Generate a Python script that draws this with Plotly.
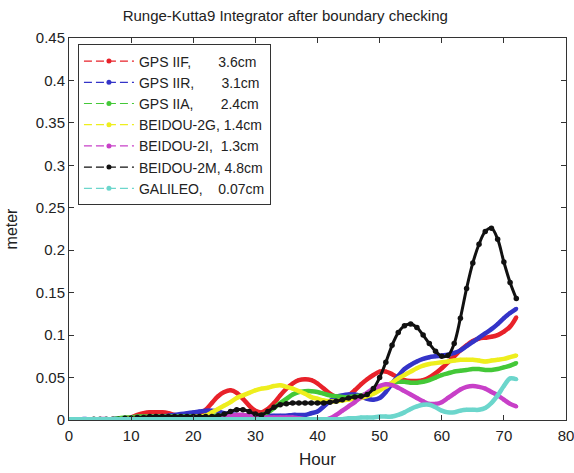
import plotly.graph_objects as go

hours = list(range(0, 73))

gps_iif = [0, 0, 0, 0, 0, 0, 0, 0.001, 0.001, 0.002, 0.003, 0.006, 0.008, 0.009, 0.009, 0.009,
           0.008, 0.006, 0.005, 0.005, 0.005, 0.007, 0.012, 0.02, 0.028, 0.033, 0.035, 0.032, 0.025,
           0.017, 0.011, 0.009, 0.013, 0.02, 0.029, 0.037, 0.043, 0.047, 0.048, 0.047, 0.043, 0.037,
           0.031, 0.027, 0.026, 0.029, 0.035, 0.042, 0.048, 0.053, 0.057, 0.057, 0.054, 0.05, 0.047,
           0.046, 0.046, 0.047, 0.05, 0.055, 0.061, 0.068, 0.075, 0.082, 0.088, 0.093, 0.096, 0.097,
           0.098, 0.1, 0.104, 0.11, 0.121]
gps_iir = [0, 0, 0.001, 0.001, 0.001, 0.001, 0.001, 0.001, 0.002, 0.002, 0.002, 0.003, 0.003,
           0.003, 0.004, 0.004, 0.005, 0.006, 0.007, 0.008, 0.009, 0.01, 0.011, 0.011, 0.01, 0.008,
           0.007, 0.006, 0.005, 0.005, 0.005, 0.005, 0.005, 0.005, 0.005, 0.005, 0.006, 0.006, 0.006,
           0.008, 0.01, 0.016, 0.022, 0.027, 0.029, 0.03, 0.03, 0.028, 0.025, 0.024, 0.026, 0.033,
           0.043, 0.052, 0.06, 0.065, 0.069, 0.072, 0.074, 0.075, 0.076, 0.077, 0.079, 0.082, 0.087,
           0.092, 0.097, 0.102, 0.107, 0.113, 0.12, 0.126, 0.131]
gps_iia = [0, 0, 0, 0, 0, 0, 0, 0.001, 0.002, 0.003, 0.003, 0.004, 0.004, 0.004, 0.004, 0.004,
           0.004, 0.004, 0.004, 0.004, 0.004, 0.004, 0.005, 0.005, 0.005, 0.005, 0.005, 0.005, 0.005,
           0.005, 0.005, 0.006, 0.009, 0.014, 0.02, 0.025, 0.03, 0.033, 0.034, 0.034, 0.033, 0.031,
           0.029, 0.028, 0.027, 0.027, 0.028, 0.029, 0.031, 0.034, 0.037, 0.04, 0.043, 0.045, 0.045,
           0.044, 0.044, 0.045, 0.047, 0.05, 0.053, 0.055, 0.057, 0.058, 0.059, 0.06, 0.06, 0.059,
           0.059, 0.06, 0.062, 0.064, 0.067]
beidou_2g = [0, 0, 0, 0, 0, 0, 0, 0, 0.001, 0.001, 0.002, 0.002, 0.002, 0.003, 0.003, 0.003,
             0.003, 0.003, 0.003, 0.003, 0.003, 0.004, 0.005, 0.009, 0.013, 0.017, 0.021, 0.026,
             0.029, 0.032, 0.035, 0.037, 0.038, 0.04, 0.041, 0.039, 0.037, 0.034, 0.031, 0.027,
             0.025, 0.023, 0.022, 0.022, 0.023, 0.024, 0.025, 0.026, 0.028, 0.031, 0.035, 0.039,
             0.044, 0.049, 0.053, 0.057, 0.061, 0.064, 0.066, 0.067, 0.068, 0.069, 0.07, 0.071,
             0.071, 0.071, 0.07, 0.069, 0.07, 0.071, 0.072, 0.074, 0.076]
beidou_2i = [0, 0, 0, 0, 0, 0.001, 0.001, 0.001, 0.001, 0.001, 0.001, 0.001, 0.001, 0.001, 0.001,
             0.001, 0.001, 0.001, 0.001, 0.001, 0.001, 0.001, 0.001, 0.002, 0.003, 0.004, 0.005,
             0.006, 0.006, 0.005, 0.004, 0.003, 0.003, 0.003, 0.003, 0.003, 0.003, 0.002, 0.001, 0,
             0, 0, 0.002, 0.006, 0.011, 0.016, 0.021, 0.027, 0.032, 0.037, 0.04, 0.042, 0.041, 0.038,
             0.034, 0.03, 0.026, 0.022, 0.019, 0.019, 0.021, 0.026, 0.031, 0.036, 0.039, 0.04, 0.039,
             0.037, 0.033, 0.029, 0.024, 0.019, 0.016]
beidou_2m = [0, 0, 0, 0, 0.001, 0.001, 0.001, 0.001, 0.001, 0.002, 0.002, 0.003, 0.003, 0.004,
             0.004, 0.004, 0.004, 0.004, 0.004, 0.004, 0.004, 0.004, 0.004, 0.004, 0.005, 0.007,
             0.01, 0.012, 0.012, 0.01, 0.007, 0.006, 0.01, 0.015, 0.018, 0.019, 0.02, 0.02, 0.02,
             0.02, 0.02, 0.02, 0.021, 0.022, 0.024, 0.026, 0.027, 0.028, 0.03, 0.037, 0.05, 0.068,
             0.088, 0.103, 0.111, 0.113, 0.109, 0.1, 0.09, 0.081, 0.075, 0.076, 0.09, 0.12, 0.155,
             0.185, 0.207, 0.222, 0.226, 0.213, 0.186, 0.162, 0.143]
galileo = [0.001, 0.001, 0.001, 0.001, 0.001, 0.001, 0.001, 0.001, 0.001, 0.001,
           0.001, 0.001, 0.001, 0.001, 0.001, 0.001, 0.001, 0.001, 0.001, 0.001, 0.001, 0.001,
           0.001, 0.001, 0.001, 0.001, 0.001, 0.001, 0.001, 0.001, 0.001, 0.001, 0.001, 0.001,
           0.001, 0.001, 0.001, 0.001, 0.001, 0.001, 0.001, 0.001, 0.001, 0.001, 0.001, 0.002,
           0.002, 0.003, 0.003, 0.003, 0.004, 0.004, 0.004, 0.006, 0.009, 0.013, 0.016, 0.018,
           0.018, 0.015, 0.011, 0.009, 0.009, 0.011, 0.012, 0.012, 0.012, 0.014, 0.02, 0.029,
           0.04, 0.049, 0.048]

series_names = ["GPS IIF,\u00a0\u00a0\u00a0\u00a0\u00a0\u00a0\u00a03.6cm",
                "GPS IIR,\u00a0\u00a0\u00a0\u00a0\u00a0\u00a0\u00a03.1cm",
                "GPS IIA,\u00a0\u00a0\u00a0\u00a0\u00a0\u00a0\u00a02.4cm",
                "BEIDOU-2G, 1.4cm",
                "BEIDOU-2I,\u00a0\u00a01.3cm",
                "BEIDOU-2M, 4.8cm",
                "GALILEO,\u00a0\u00a0\u00a0\u00a00.07cm"]
series_values = [gps_iif, gps_iir, gps_iia, beidou_2g, beidou_2i, beidou_2m, galileo]
series_colors = ["#e8222a", "#3434c8", "#44c838", "#eeee1e", "#c840c8", "#111111", "#6cd6cc"]

fig = go.Figure()
for name, vals, col in zip(series_names, series_values, series_colors):
    is_black = col == "#111111"
    fig.add_trace(go.Scatter(
        x=hours, y=vals, mode="lines+markers", showlegend=False,
        line=dict(color=col, width=3 if is_black else 4.5, shape="spline", smoothing=1),
        marker=dict(color=col, size=5.5 if is_black else 4, symbol="circle"),
        hoverinfo="skip"))
for name, col in zip(series_names, series_colors):
    fig.add_trace(go.Scatter(
        x=[None], y=[None], mode="lines+markers", name=name,
        line=dict(color=col, width=1.2, dash="8px,4px"),
        marker=dict(color=col, size=5, symbol="circle")))

axis_common = dict(showline=True, linecolor="#333333", linewidth=1, mirror="ticks",
                   ticks="inside", ticklen=5, tickcolor="#333333", showgrid=False,
                   zeroline=False, automargin=False, ticklabeloverflow="allow",
                   tickfont=dict(size=15, color="#222222"))
fig.update_xaxes(range=[0, 80], dtick=10, ticklabelstandoff=2,
                 title=dict(text="Hour", font=dict(size=17, color="#222222"), standoff=10),
                 **axis_common)
fig.update_yaxes(range=[0, 0.45], dtick=0.05,
                 title=dict(text="meter", font=dict(size=16, color="#222222"), standoff=14),
                 **axis_common)

fig.update_layout(
    width=574, height=473,
    margin=dict(l=69, r=8, t=37.5, b=53, autoexpand=False),
    paper_bgcolor="white", plot_bgcolor="white",
    font=dict(family="Liberation Sans, Arial, sans-serif", color="#222222"),
    title=dict(text="Runge-Kutta9 Integrator after boundary checking", x=0.497, xanchor="center",
               y=0.966, yanchor="middle", font=dict(size=15, color="#222222")),
    legend=dict(x=0.018, y=0.983, xanchor="left", yanchor="top", bgcolor="white",
                bordercolor="#333333", borderwidth=1, font=dict(size=14, color="#222222"),
                itemwidth=50, tracegroupgap=0),
)

fig.write_html("out.html", config={"displayModeBar": False},
               post_script="document.body.style.margin='0';document.body.style.overflow='hidden';")
